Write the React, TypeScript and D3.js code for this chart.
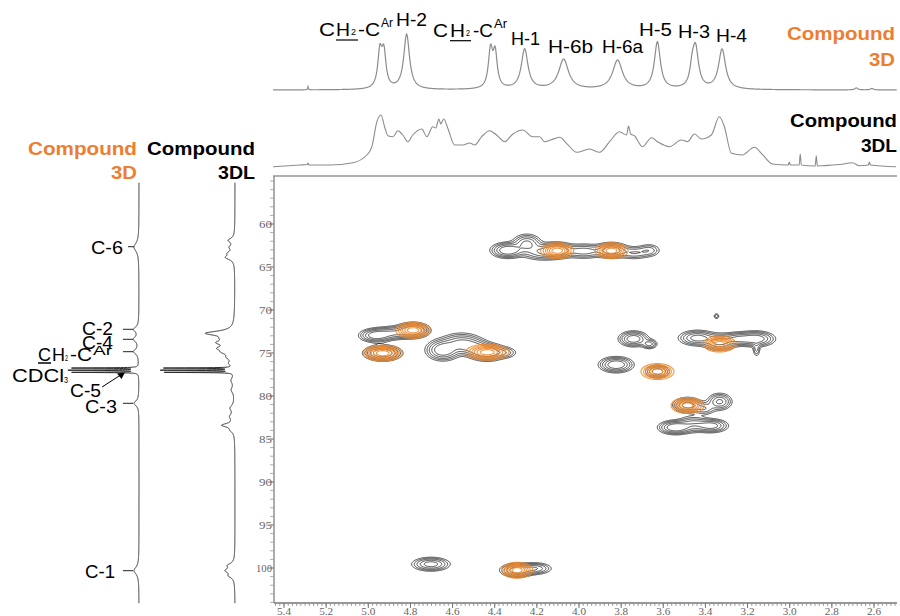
import * as d3 from 'd3'

// ---- axis tick labels of the 2D plot
const hTickLabels = ['5.4', '5.2', '5.0', '4.8', '4.6', '4.4', '4.2', '4.0', '3.8', '3.6', '3.4', '3.2', '3.0', '2.8', '2.6']
const cTickLabels = ['60', '65', '70', '75', '80', '85', '90', '95', '100']

// ---- 1H spectrum of compound 3D: [ppm, height, half width (ppm)]
const protonPeaks3D = [
  [5.286, 3, 0.002],
  [4.945, 35, 0.012], [4.926, 34, 0.012],
  [4.818, 55, 0.0166],
  [4.42, 37, 0.012], [4.398, 34, 0.012],
  [4.258, 40, 0.019],
  [4.073, 30, 0.028],
  [3.817, 29, 0.028],
  [3.628, 47, 0.017],
  [3.463, 15, 0.012], [3.447, 40, 0.017],
  [3.321, 40, 0.02],
  [2.684, 2, 0.008], [2.61, 1.5, 0.008],
]

// ---- 1H trace of compound 3DL, read point by point: [ppm, intensity]
const protonTrace3DL = [
  [5.452, 0.3], [5.324, 2], [5.29, 2.5], [5.286, 4], [5.282, 2], [5.182, 2], [5.073, 4.3], [5.007, 12], [4.983, 20.3],
  [4.959, 45.3], [4.94, 52], [4.921, 39], [4.907, 31.3], [4.883, 30.3], [4.86, 36.3], [4.836, 32],
  [4.812, 25.3], [4.789, 32], [4.746, 38], [4.722, 30.3], [4.694, 40.3], [4.68, 39], [4.665, 48],
  [4.656, 43], [4.642, 48], [4.623, 39], [4.59, 22], [4.552, 22], [4.518, 24], [4.495, 22],
  [4.462, 30.3], [4.424, 36.3], [4.391, 32], [4.353, 25.3], [4.315, 32.7], [4.267, 37], [4.22, 30.3],
  [4.187, 30.3], [4.163, 25.3], [4.135, 27], [4.092, 29.7], [4.059, 23.7], [4.011, 14.7], [3.95, 18],
  [3.902, 14.7], [3.855, 25.3], [3.808, 35.3], [3.774, 32], [3.765, 41], [3.755, 33], [3.737, 31.3],
  [3.699, 20.3], [3.656, 29.3], [3.628, 25.3], [3.571, 20.3], [3.514, 27], [3.485, 25.3], [3.452, 33],
  [3.419, 28], [3.372, 32], [3.334, 50.3], [3.31, 40.3], [3.277, 13.7], [3.225, 12], [3.168, 19.7],
  [3.13, 12.7], [3.082, 3], [3.007, 2], [3.002, 5], [2.997, 2], [2.955, 2], [2.95, 13], [2.945, 2],
  [2.879, 1], [2.874, 11.3], [2.869, 1], [2.846, 1.3], [2.751, 2.7], [2.703, 4.3], [2.67, 1.3],
  [2.627, 2], [2.622, 5], [2.617, 2], [2.495, 0.3],
]

// ---- 13C spectra: [ppm, height, half width (ppm)]
const carbonPeaks3D = [
  [62.7, 5, 0.6],
  [72.25, 5, 0.35], [73.4, 5, 0.35], [74.85, 5, 0.35],
  [76.75, 66, 0.03], [77.0, 69, 0.03], [77.25, 66, 0.03],
  [80.85, 5, 0.35],
  [100.3, 5, 0.5],
]
const carbonPeaks3DL = [
  [61.9, 6, 0.3], [62.7, 4, 0.3], [63.4, 5, 0.3], [63.9, 8, 0.3],
  [72.7, 27, 0.3], [73.3, 6, 0.3], [73.8, 13, 0.3], [74.45, 12, 0.3], [74.9, 8, 0.3], [75.5, 5, 0.3], [76.2, 4, 0.3],
  [76.75, 68, 0.03], [77.0, 71, 0.03], [77.25, 68, 0.03],
  [78.2, 3, 0.4], [79.3, 3, 0.4], [81.4, 4, 0.4], [82.4, 4, 0.4], [83.4, 12, 0.25], [84.0, 3, 0.3],
  [99.7, 6, 0.3], [100.3, 8, 0.3], [100.9, 5, 0.3],
]

// ---- HSQC cross peaks: [1H ppm, 13C ppm, sigma H, sigma C, amplitude]
const hsqc3DL = [
  // C-6 region
  [4.34, 63.0, 0.04, 0.45, 1.0], [4.25, 62.2, 0.035, 0.55, 0.7], [4.18, 63.2, 0.05, 0.5, 0.55],
  [4.106, 63.0, 0.04, 0.45, 1.0], [3.98, 63.1, 0.05, 0.45, 0.55], [3.848, 63.0, 0.04, 0.45, 0.9],
  [3.74, 63.3, 0.04, 0.4, 0.4], [3.67, 63.0, 0.03, 0.4, 0.35],
  // C-2 / CH2 / C-4 region
  [4.965, 72.9, 0.04, 0.4, 0.9], [4.88, 72.6, 0.05, 0.4, 0.6], [4.79, 72.3, 0.04, 0.45, 1.0],
  [4.934, 74.95, 0.045, 0.45, 1.0],
  [4.648, 74.6, 0.04, 0.6, 1.0], [4.56, 73.8, 0.05, 0.6, 0.7], [4.50, 74.3, 0.04, 0.5, 0.55],
  [4.438, 74.85, 0.045, 0.5, 1.0], [4.35, 74.9, 0.03, 0.35, 0.3],
  [3.744, 73.3, 0.035, 0.45, 0.9], [3.668, 73.9, 0.02, 0.3, 0.5],
  [3.35, 70.66, 0.008, 0.2, 0.25],
  [3.44, 73.2, 0.045, 0.45, 0.8], [3.335, 73.7, 0.04, 0.5, 0.7], [3.25, 73.3, 0.04, 0.4, 0.6],
  [3.163, 73.3, 0.045, 0.45, 0.9], [3.16, 74.5, 0.01, 0.5, 0.3],
  // C-5 / C-3 region
  [3.826, 76.3, 0.04, 0.45, 1.0], [3.63, 77.1, 0.03, 0.4, 0.6],
  [3.487, 81.0, 0.035, 0.45, 0.8], [3.335, 80.6, 0.03, 0.5, 0.7], [3.41, 81.4, 0.03, 0.4, 0.4],
  [3.545, 83.6, 0.04, 0.4, 1.0], [3.374, 83.4, 0.04, 0.4, 0.8], [3.46, 83.2, 0.04, 0.5, 0.5],
  // C-1 region
  [4.705, 99.5, 0.045, 0.4, 0.8], [4.296, 100.2, 0.04, 0.4, 0.9], [4.21, 100.0, 0.04, 0.35, 0.6],
]
const hsqc3D = [
  [4.106, 63.05, 0.038, 0.45, 1], [3.848, 63.05, 0.038, 0.45, 1],
  [4.79, 72.3, 0.04, 0.45, 1], [4.934, 74.96, 0.045, 0.45, 1], [4.438, 74.85, 0.05, 0.45, 1],
  [3.335, 73.9, 0.038, 0.45, 1], [3.63, 77.1, 0.038, 0.45, 1], [3.487, 81.05, 0.038, 0.45, 1],
  [4.296, 100.2, 0.036, 0.45, 1],
]

const ORANGE = '#ED7D31'
const SANS = '"Liberation Sans", Arial, sans-serif'
const SERIF = '"Liberation Serif", "Times New Roman", serif'

// frame of the 2D plot
const frame = { left: 274, right: 897, top: 176, bottom: 603 }
const x = d3.scaleLinear().domain([5.4, 2.6]).range([284, 874])
const y = d3.scaleLinear().domain([60, 100]).range([224, 568])

const lorentz = (peaks: number[][], v: number) =>
  d3.sum(peaks, ([p, h, w]) => h / (1 + ((v - p) / w) ** 2))

function contourPaths (peaks: number[][], thresholds: number[]) {
  const n = frame.right - frame.left
  const m = frame.bottom - frame.top
  const grid = new Array(n * m).fill(0)
  const pxH = Math.abs(x(0) - x(1))
  const pxC = Math.abs(y(1) - y(0))
  for (const [h, c, sh, sc, a] of peaks) {
    const cx = x(h) - frame.left
    const cy = y(c) - frame.top
    const sx = sh * pxH
    const sy = sc * pxC
    const i0 = Math.max(0, Math.floor(cx - 4 * sx))
    const i1 = Math.min(n - 1, Math.ceil(cx + 4 * sx))
    const j0 = Math.max(0, Math.floor(cy - 4 * sy))
    const j1 = Math.min(m - 1, Math.ceil(cy + 4 * sy))
    for (let j = j0; j <= j1; j++) {
      for (let i = i0; i <= i1; i++) {
        grid[i + j * n] += a * Math.exp(-0.5 * ((i - cx) / sx) ** 2 - 0.5 * ((j - cy) / sy) ** 2)
      }
    }
  }
  const path = d3.geoPath()
  return d3.contours().size([n, m]).thresholds(thresholds)(grid).map((c) => path(c) || '')
}

function Txt ({ x, y, w, size, weight, fill, anchor, family, children }: any) {
  return (
    <text x={x} y={y} fontSize={size} fontWeight={weight || 'normal'} fill={fill || '#000'}
      fontFamily={family || SANS} textAnchor={anchor || 'start'}
      textLength={w} lengthAdjust={w ? 'spacingAndGlyphs' : undefined}>
      {children}
    </text>
  )
}

export default function App () {
  // top 1D traces
  const hSamples = d3.range(5.452, 2.49, -0.002)
  const top3D = d3.line<number>().x((p) => x(p)).y((p) => 90 - lorentz(protonPeaks3D, p))(hSamples)
  const top3DL = d3.line<number[]>().curve(d3.curveMonotoneX)
    .x((d) => x(d[0])).y((d) => 167 - d[1])(protonTrace3DL)

  // left 1D traces
  const cSamples = d3.range(55.2, 104.1, 0.01)
  const left3D = d3.line<number>().x((c) => 139 - lorentz(carbonPeaks3D, c)).y((c) => y(c))(cSamples)
  const left3DL = d3.line<number>().x((c) => 235 - lorentz(carbonPeaks3DL, c)).y((c) => y(c))(cSamples)

  const black = contourPaths(hsqc3DL, [0.1, 0.17, 0.27, 0.42, 0.62])
  const orange = contourPaths(hsqc3D, [0.12, 0.22, 0.34, 0.47, 0.62, 0.8])

  const hMinor = d3.range(5.44, 2.5, -0.02)
  const cMinor = d3.range(55, 104.5, 1)

  const leader = (yy: number) => <line x1={123} x2={133} y1={yy} y2={yy} stroke='#222' strokeWidth={1} />

  return (
    <svg width={900} height={616} style={{ position: 'absolute', left: 0, top: 0, background: '#fff' }}>
      {/* top spectra */}
      <path d={top3D || ''} fill='none' stroke='#8c8c8c' strokeWidth={1.2} />
      <path d={top3DL || ''} fill='none' stroke='#8c8c8c' strokeWidth={1.1} />

      {/* left spectra */}
      <path d={left3D || ''} fill='none' stroke='#2a2a2a' strokeWidth={1} />
      <path d={left3DL || ''} fill='none' stroke='#2a2a2a' strokeWidth={1} />

      {/* frame and axes */}
      <line x1={frame.left - 1} x2={frame.right} y1={frame.top} y2={frame.top} stroke='#b0b0b0' strokeWidth={2} />
      <line x1={frame.left} x2={frame.left} y1={frame.top} y2={frame.bottom} stroke='#909090' strokeWidth={1.5} />
      <line x1={frame.left} x2={frame.right} y1={frame.bottom} y2={frame.bottom} stroke='#777' strokeWidth={1.3} />
      {hMinor.map((t, i) => (
        <line key={'hm' + i} x1={x(t)} x2={x(t)} y1={frame.bottom} y2={frame.bottom + 3} stroke='#888' strokeWidth={0.8} />
      ))}
      {hTickLabels.map((t) => (
        <g key={'ht' + t}>
          <line x1={x(+t)} x2={x(+t)} y1={frame.bottom} y2={frame.bottom + 5} stroke='#777' strokeWidth={1} />
          <Txt x={x(+t)} y={615} size={10} fill='#666' anchor='middle' family={SERIF} w={14}>{t}</Txt>
        </g>
      ))}
      {cMinor.map((t, i) => (
        <line key={'cm' + i} x1={frame.left - 4} x2={frame.left} y1={y(t)} y2={y(t)} stroke='#999' strokeWidth={0.8} />
      ))}
      {cTickLabels.map((t) => (
        <g key={'ct' + t}>
          <line x1={frame.left - 6} x2={frame.left} y1={y(+t)} y2={y(+t)} stroke='#888' strokeWidth={1} />
          <Txt x={272} y={y(+t) + 4} size={11} fill='#666' anchor='end' family={SERIF} w={t.length === 3 ? 16 : 13}>{t}</Txt>
        </g>
      ))}

      {/* HSQC contours */}
      <g transform={`translate(${frame.left},${frame.top})`}>
        {black.map((d, i) => <path key={'b' + i} d={d} fill='none' stroke='#111' strokeWidth={0.75} />)}
        {orange.map((d, i) => <path key={'o' + i} d={d} fill='none' stroke='#f08a2c' strokeWidth={1.1} opacity={0.9} />)}
      </g>

      {/* top labels */}
      <Txt x={319} y={36} size={17.5} w={16}>C</Txt>
      <Txt x={336} y={36} size={17.5} w={14}>H</Txt>
      <Txt x={351} y={35} size={9} w={5}>2</Txt>
      <Txt x={358} y={36} size={17.5} w={22}>-C</Txt>
      <Txt x={381} y={27} size={12} w={12}>Ar</Txt>
      <line x1={336} x2={358} y1={40} y2={40} stroke='#000' strokeWidth={1.2} />
      <Txt x={396} y={26} size={17.5} w={31}>H-2</Txt>
      <Txt x={433} y={36.7} size={17.5} w={15}>C</Txt>
      <Txt x={450} y={36.7} size={17.5} w={15}>H</Txt>
      <Txt x={466} y={35.5} size={9} w={4}>2</Txt>
      <Txt x={473} y={36.7} size={17.5} w={20}>-C</Txt>
      <Txt x={494} y={28.3} size={12} w={13}>Ar</Txt>
      <line x1={450} x2={471} y1={40.7} y2={40.7} stroke='#000' strokeWidth={1.2} />
      <Txt x={511} y={45} size={17.5} w={29}>H-1</Txt>
      <Txt x={548} y={52.7} size={17.5} w={45}>H-6b</Txt>
      <Txt x={602} y={52.7} size={17.5} w={41}>H-6a</Txt>
      <Txt x={639} y={36} size={17.5} w={33}>H-5</Txt>
      <Txt x={678} y={38.3} size={17.5} w={32}>H-3</Txt>
      <Txt x={716} y={41.7} size={17.5} w={31}>H-4</Txt>

      {/* titles */}
      <Txt x={895} y={40} size={18.5} weight='bold' fill={ORANGE} anchor='end' w={108}>Compound</Txt>
      <Txt x={895} y={66} size={18.5} weight='bold' fill={ORANGE} anchor='end' w={26}>3D</Txt>
      <Txt x={897} y={127} size={18.5} weight='bold' anchor='end' w={107}>Compound</Txt>
      <Txt x={897} y={152} size={18.5} weight='bold' anchor='end' w={36}>3DL</Txt>
      <Txt x={137} y={155} size={18.5} weight='bold' fill={ORANGE} anchor='end' w={109}>Compound</Txt>
      <Txt x={137} y={179} size={18.5} weight='bold' fill={ORANGE} anchor='end' w={26}>3D</Txt>
      <Txt x={255} y={155} size={18.5} weight='bold' anchor='end' w={108}>Compound</Txt>
      <Txt x={255} y={179} size={18.5} weight='bold' anchor='end' w={37}>3DL</Txt>

      {/* left labels */}
      <Txt x={91} y={253.5} size={19} w={32}>C-6</Txt>
      <line x1={128} x2={134} y1={246.7} y2={246.7} stroke='#222' />
      <Txt x={82} y={334.5} size={18} w={31}>C-2</Txt>
      {leader(329.3)}
      <Txt x={82} y={348.5} size={18} w={31}>C-4</Txt>
      {leader(339.3)}
      <Txt x={38} y={360.5} size={18} w={13}>C</Txt>
      <Txt x={52} y={360.5} size={18} w={13}>H</Txt>
      <Txt x={65} y={361} size={9} w={3}>2</Txt>
      <Txt x={70} y={360.5} size={18} w={22}>-C</Txt>
      <Txt x={93} y={355} size={12} w={19}>Ar</Txt>
      {leader(351.7)}
      <line x1={38} x2={51} y1={363} y2={363} stroke='#000' strokeWidth={1.5} />
      <Txt x={12} y={382} size={19} w={52}>CDCl</Txt>
      <Txt x={64} y={383} size={9} w={4}>3</Txt>
      <Txt x={70} y={397} size={19} w={31}>C-5</Txt>
      <line x1={102} x2={123} y1={387} y2={373.5} stroke='#000' strokeWidth={1} />
      <path d='M125,372.5 L117,373.5 L121.5,379 Z' fill='#000' />
      <Txt x={85} y={413} size={19} w={32}>C-3</Txt>
      {leader(403.3)}
      <Txt x={85} y={577.5} size={19} w={30}>C-1</Txt>
      {leader(570.7)}
    </svg>
  )
}
